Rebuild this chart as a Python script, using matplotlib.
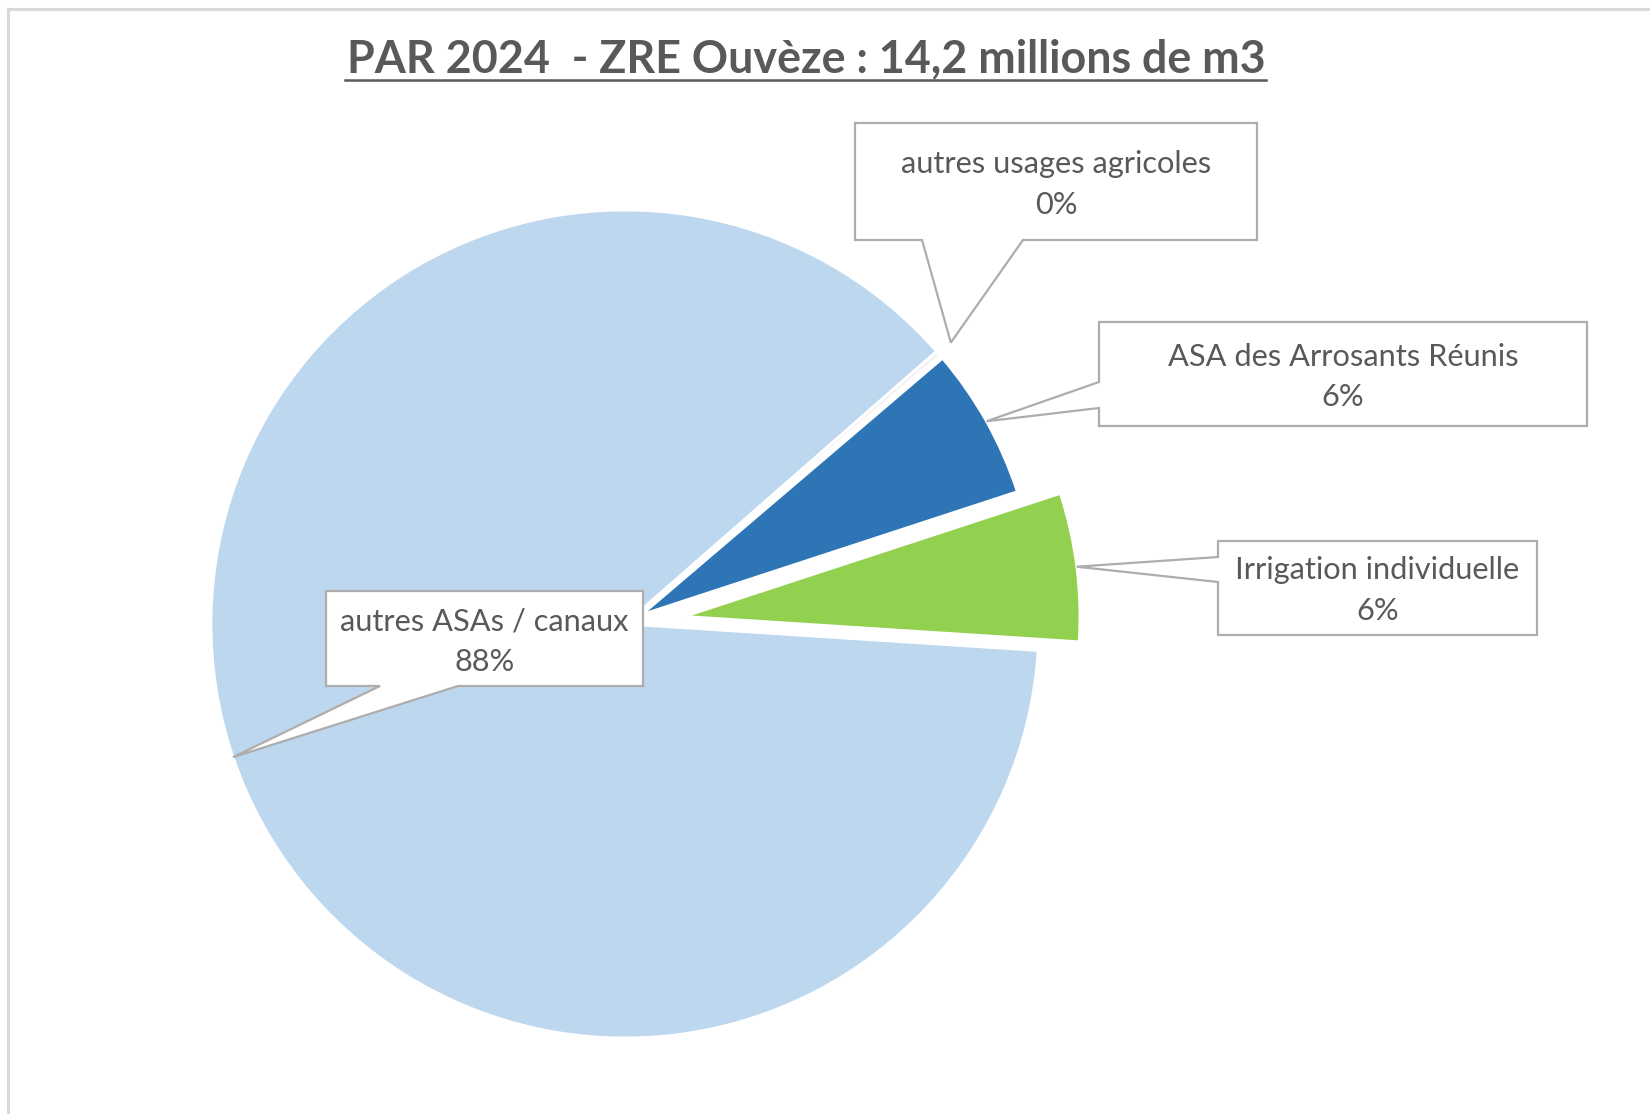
import matplotlib
matplotlib.use('Agg')
import matplotlib.pyplot as plt
from matplotlib.patches import Polygon
from matplotlib.lines import Line2D
import numpy as np

# ---------------- data ----------------
categories = ["autres usages agricoles", "ASA des Arrosants Réunis",
              "Irrigation individuelle", "autres ASAs / canaux"]
volumes_mm3 = [0.03, 0.88, 0.86, 12.43]   # millions de m3 (total 14,2)
colors = ['#F2F2F2', '#2E75B6', '#92D050', '#BDD7EE']
explode = [0.0, 0.046, 0.145, 0.0]
title = "PAR 2024  - ZRE Ouvèze : 14,2 millions de m3"

# ---------------- layout (pixels) ----------------
W, H = 1650, 1114
cx, cy, R = 625, 624, 414
TXT = '#595959'
EDGE = '#ADADAD'

fig = plt.figure(figsize=(W / 100, H / 100), dpi=100)
fig.patch.set_facecolor('white')

half = R * 1.25
ax = fig.add_axes([(cx - half) / W, (H - cy - half) / H, 2 * half / W, 2 * half / H])
wedges, _ = ax.pie(volumes_mm3, colors=colors, explode=explode, startangle=41.2,
                   counterclock=False, radius=1,
                   wedgeprops=dict(edgecolor='white', linewidth=2.0))
# exploded slices are drawn slightly smaller, as in the original
for w, e in zip(wedges, explode):
    if e > 0:
        w.set_radius(0.955)
ax.set_xlim(-1.25, 1.25)
ax.set_ylim(-1.25, 1.25)
ax.set_aspect('equal')

ov = fig.add_axes([0, 0, 1, 1], zorder=5)
ov.set_xlim(0, W)
ov.set_ylim(H, 0)
ov.axis('off')
ov.patch.set_alpha(0)

# outer chart frame
ov.add_line(Line2D([8, 8], [9, H + 5], color='#D9D9D9', lw=2.2))
ov.add_line(Line2D([8, W + 5], [9, 9], color='#D9D9D9', lw=2.2))

fig.canvas.draw()
rend = fig.canvas.get_renderer()

def fit(s, target, weight='normal', base=20):
    t = ov.text(0, 0, s, fontsize=base, family=['Lato', 'DejaVu Sans'], weight=weight)
    w = t.get_window_extent(renderer=rend).width
    t.remove()
    return base * target / w

# title
fs_title = fit(title, 921, weight='bold')
ov.text(806, 72, title, fontsize=fs_title, family=['Lato', 'DejaVu Sans'],
        weight='bold', color=TXT, ha='center', va='baseline')
ov.add_line(Line2D([345, 1266], [80, 80], color=TXT, lw=1.8))

fs_lab = fit("ASA des Arrosants Réunis", 351)

# callouts: rect (x0, y0, x1, y1), pointer side, base positions, tip radial factor
boxes = [
    ((855, 123, 1257, 240), 'bottom', (922, 1023), 1.04),
    ((1099, 322, 1587, 426), 'left', (382, 408), 1.0),
    ((1218, 541, 1537, 635), 'left', (557, 582), 1.0),
    ((326, 591, 643, 686), 'bottom', (380, 458), 1.0),
]

total = sum(volumes_mm3)
to_ov = ov.transData.inverted()
for w, cat, v, (rect, side, base, fac) in zip(wedges, categories, volumes_mm3, boxes):
    th = np.deg2rad((w.theta1 + w.theta2) / 2)
    px = w.center[0] + w.r * fac * np.cos(th)
    py = w.center[1] + w.r * fac * np.sin(th)
    tip = to_ov.transform(ax.transData.transform((px, py)))
    x0, y0, x1, y1 = rect
    b1, b2 = base
    if side == 'bottom':
        verts = [(x0, y0), (x1, y0), (x1, y1), (b2, y1), tuple(tip), (b1, y1), (x0, y1)]
    else:
        verts = [(x0, y0), (x1, y0), (x1, y1), (x0, y1), (x0, b2), tuple(tip), (x0, b1)]
    ov.add_patch(Polygon(verts, closed=True, facecolor='white', edgecolor=EDGE, lw=1.6))
    xc = (x0 + x1) / 2
    yc = (y0 + y1) / 2 + 3
    pct = f"{round(100 * v / total):.0f}%"
    ov.text(xc, yc - 20.5, cat, fontsize=fs_lab, family=['Lato', 'DejaVu Sans'],
            color=TXT, ha='center', va='center')
    ov.text(xc, yc + 20.5, pct, fontsize=fs_lab, family=['Lato', 'DejaVu Sans'],
            color=TXT, ha='center', va='center')

fig.savefig('out.png', dpi=100, facecolor='white')
